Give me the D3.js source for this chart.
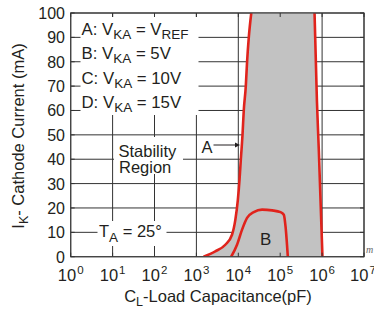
<!DOCTYPE html>
<html>
<head>
<meta charset="utf-8">
<script src="https://cdn.jsdelivr.net/npm/d3@7"></script>
<style>
  body { margin: 0; background: #fff; }
  text { font-family: "Liberation Sans", Arial, sans-serif; fill: #231f20; }
</style>
</head>
<body>
<div id="chart"></div>
<script>
const width = 374;
const height = 312;
const margin = {top: 13, right: 10, bottom: 55, left: 70.7};

// tick values
const xTickExp = [0, 1, 2, 3, 4, 5, 6, 7];
const yTickValues = [0, 10, 20, 30, 40, 50, 60, 70, 80, 90, 100];

// curve A, left edge of the stable region (pF, mA)
const curveA_C = [1480, 2820, 4900, 7080, 8510, 9770, 10700, 11500, 12600, 13500, 15100, 16200, 17800, 20400];
const curveA_I = [0, 2.2, 4.9, 9, 15.2, 23.4, 31.6, 40, 50, 60, 70, 80, 90, 100];

// right edge of the stable region
const edgeR_C = [660000, 752000, 834000, 1020000];
const edgeR_I = [100, 64, 44, 0];

// curve B
const curveB_C = [6760, 9330, 12300, 16200, 23400, 37000, 64000, 102000, 122000, 134000, 152000];
const curveB_I = [0, 4.9, 11.1, 15.9, 18.3, 19.3, 19.0, 18.3, 17.2, 12.4, 0];

const x = d3.scaleLog()
  .domain([1, 1e7])
  .range([margin.left, width - margin.right]);
const y = d3.scaleLinear()
  .domain([0, 100])
  .range([height - margin.bottom - 0.3, margin.top]);

const svg = d3.select("#chart")
  .append("svg")
  .attr("width", width)
  .attr("height", height);

const x0 = x(1), x1 = x(1e7), y0 = y(0), y1 = y(100);

svg.append("clipPath").attr("id", "plot")
  .append("rect")
  .attr("x", x0).attr("y", y1)
  .attr("width", x1 - x0).attr("height", y0 - y1);

// grid
const grid = svg.append("g")
  .attr("stroke", "#333")
  .attr("stroke-width", 1);
grid.selectAll(".hg")
  .data(yTickValues)
  .enter()
  .append("line")
  .attr("x1", x0).attr("x2", x1)
  .attr("y1", d => y(d)).attr("y2", d => y(d));
grid.selectAll(".vg")
  .data(xTickExp)
  .enter()
  .append("line")
  .attr("x1", d => x(Math.pow(10, d))).attr("x2", d => x(Math.pow(10, d)))
  .attr("y1", y1).attr("y2", y0);

// white boxes behind the labels inside the plot
const boxes = [[80.5, 17, 198.5, 115], [114, 137, 183, 174], [97.5, 221, 166.5, 246]];
svg.selectAll(".box")
  .data(boxes)
  .enter()
  .append("rect")
  .attr("x", d => d[0]).attr("y", d => d[1])
  .attr("width", d => d[2] - d[0]).attr("height", d => d[3] - d[1])
  .attr("fill", "#fff");

const line = d3.line()
  .x(d => x(d[0]))
  .y(d => y(d[1]))
  .curve(d3.curveMonotoneX);

const ptsA = curveA_C.map((c, i) => [c, curveA_I[i]]);
const ptsR = edgeR_C.map((c, i) => [c, edgeR_I[i]]);
const ptsB = curveB_C.map((c, i) => [c, curveB_I[i]]);

const plot = svg.append("g").attr("clip-path", "url(#plot)");

plot.append("path")
  .attr("d", line(ptsA) + line(ptsR).replace("M", "L") + "Z")
  .attr("fill", "#c2c2c2");

[ptsA, ptsR, ptsB].forEach(p => {
  plot.append("path")
    .attr("d", line(p))
    .attr("fill", "none")
    .attr("stroke", "#e0231c")
    .attr("stroke-width", 2.6);
});

// frame and inward ticks
svg.append("rect")
  .attr("x", x0).attr("y", y1)
  .attr("width", x1 - x0).attr("height", y0 - y1)
  .attr("fill", "none")
  .attr("stroke", "#444")
  .attr("stroke-width", 1.2);

const ticks = svg.append("g").attr("stroke", "#333");
xTickExp.forEach(e => {
  const xx = x(Math.pow(10, e));
  ticks.append("line").attr("x1", xx).attr("x2", xx).attr("y1", y0).attr("y2", y0 - 4);
  ticks.append("line").attr("x1", xx).attr("x2", xx).attr("y1", y1).attr("y2", y1 + 4);
});
yTickValues.forEach(v => {
  ticks.append("line").attr("x1", x0).attr("x2", x0 + 4).attr("y1", y(v)).attr("y2", y(v));
  ticks.append("line").attr("x1", x1).attr("x2", x1 - 4).attr("y1", y(v)).attr("y2", y(v));
});

// y tick labels
svg.selectAll(".ylab")
  .data(yTickValues)
  .enter()
  .append("text")
  .attr("x", 65)
  .attr("y", d => y(d) + 6)
  .attr("text-anchor", "end")
  .attr("font-size", 16)
  .text(d => d);

// x tick labels 10^n
xTickExp.forEach(e => {
  const t = svg.append("text")
    .attr("x", x(Math.pow(10, e)) - (e === 7 ? 1 : 0))
    .attr("y", 280.5)
    .attr("text-anchor", "middle")
    .attr("font-size", 16.5);
  t.append("tspan").text("10");
  t.append("tspan").attr("font-size", 11.5).attr("dy", -7).attr("dx", 1).text(e);
});

// axis titles
const xt = svg.append("text")
  .attr("x", 218).attr("y", 302)
  .attr("text-anchor", "middle")
  .attr("font-size", 16.5);
xt.append("tspan").text("C");
xt.append("tspan").attr("font-size", 12.5).attr("dy", 4).text("L");
xt.append("tspan").attr("dy", -4).text("-Load Capacitance(pF)");

const yt = svg.append("text")
  .attr("transform", "translate(24,136) rotate(-90)")
  .attr("text-anchor", "middle")
  .attr("font-size", 16.5);
yt.append("tspan").text("I");
yt.append("tspan").attr("font-size", 12.5).attr("dy", 4).text("K");
yt.append("tspan").attr("dy", -4).text("- Cathode Current (mA)");

// legend
const legendLines = [["A: V", "KA", " = V", "REF"], ["B: V", "KA", " = 5V"], ["C: V", "KA", " = 10V"], ["D: V", "KA", " = 15V"]];
legendLines.forEach((parts, i) => {
  const t = svg.append("text")
    .attr("x", 81.5)
    .attr("y", 35 + i * 24.4)
    .attr("font-size", 16.8);
  parts.forEach((p, j) => {
    const sp = t.append("tspan").text(p);
    if (j % 2 === 1) sp.attr("font-size", 13.5).attr("dy", 4);
    else if (j > 0) sp.attr("dy", -4);
  });
});

svg.append("text").attr("x", 118.5).attr("y", 156.5).attr("font-size", 16.5).text("Stability");
svg.append("text").attr("x", 119).attr("y", 173).attr("font-size", 16.5).text("Region");

const ta = svg.append("text").attr("x", 99).attr("y", 237).attr("font-size", 16.5);
ta.append("tspan").text("T");
ta.append("tspan").attr("font-size", 13.5).attr("dy", 5).text("A");
ta.append("tspan").attr("dy", -5).text(" = 25°");

// A label with arrow
svg.append("text").attr("x", 201.5).attr("y", 152.5).attr("font-size", 16.5).text("A");
svg.append("line")
  .attr("x1", 213.5).attr("x2", 237)
  .attr("y1", 145).attr("y2", 145)
  .attr("stroke", "#231f20").attr("stroke-width", 1);
svg.append("path")
  .attr("d", "M240,145 L235,142.5 L235,147.5 Z")
  .attr("fill", "#231f20");

svg.append("text").attr("x", 260).attr("y", 245).attr("font-size", 17).text("B");

svg.append("text")
  .attr("x", 366).attr("y", 253)
  .attr("font-size", 10)
  .attr("font-style", "italic")
  .style("font-family", "'Liberation Serif', serif")
  .style("fill", "#666")
  .text("m");
</script>
</body>
</html>
